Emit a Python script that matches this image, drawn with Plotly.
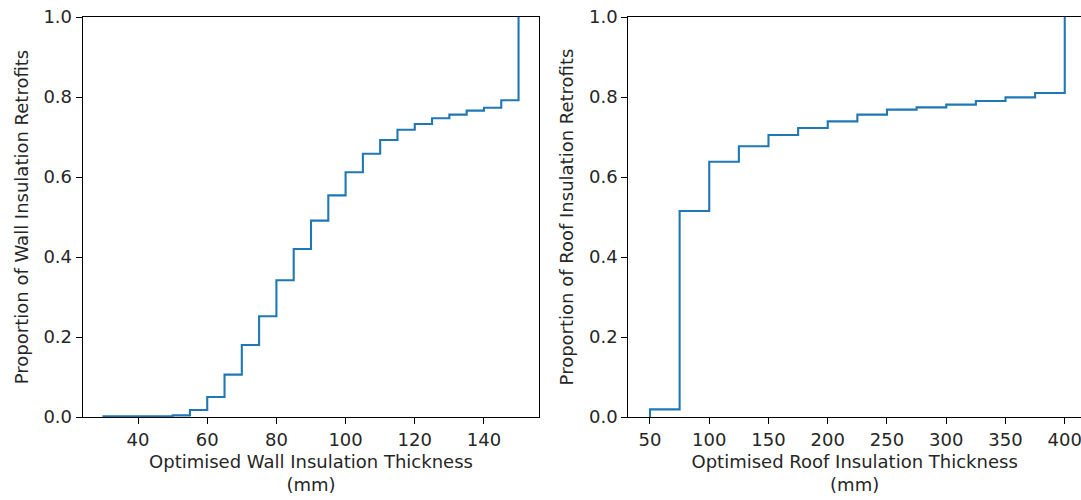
import plotly.graph_objects as go

# Wall insulation ECDF
wall_thickness = [30, 35, 40, 45, 50, 55, 60, 65, 70, 75, 80, 85, 90, 95, 100, 105, 110,
                  115, 120, 125, 130, 135, 140, 145, 150]
wall_prop = [0.002, 0.002, 0.002, 0.002, 0.004, 0.0175, 0.05, 0.106, 0.18, 0.252, 0.342,
             0.42, 0.491, 0.554, 0.612, 0.658, 0.6925, 0.718, 0.7325, 0.747, 0.756,
             0.766, 0.773, 0.792, 1.0]

# Roof insulation ECDF
roof_thickness = [50, 75, 100, 125, 150, 175, 200, 225, 250, 275, 300, 325, 350, 375, 400]
roof_prop = [0.019, 0.515, 0.638, 0.677, 0.705, 0.7225, 0.739, 0.756, 0.7685, 0.774,
             0.781, 0.79, 0.799, 0.81, 1.0]

y_ticks = [0.0, 0.2, 0.4, 0.6, 0.8, 1.0]
wall_ticks = [40, 60, 80, 100, 120, 140]
roof_ticks = [50, 100, 150, 200, 250, 300, 350, 400]

BLUE = "#1f77b4"
FONT = "DejaVu Sans"
TXT = "#262626"
FS = 18
W, H = 1081, 500

fig = go.Figure()
fig.add_trace(go.Scatter(x=[wall_thickness[0]] + wall_thickness, y=[0] + wall_prop,
                         mode="lines", line=dict(color=BLUE, width=2.1, shape="hv"),
                         xaxis="x", yaxis="y", showlegend=False))
fig.add_trace(go.Scatter(x=[roof_thickness[0]] + roof_thickness, y=[0] + roof_prop,
                         mode="lines", line=dict(color=BLUE, width=2.1, shape="hv"),
                         xaxis="x2", yaxis="y2", showlegend=False))

axis_common = dict(showgrid=False, zeroline=False, showline=True, linecolor="black",
                   linewidth=1.1, ticks="outside", ticklen=6, tickwidth=1.1,
                   tickcolor="black", tickfont=dict(family=FONT, size=FS, color=TXT),
                   ticklabeloverflow="allow")

tfont = dict(family=FONT, size=FS, color=TXT)

fig.update_layout(
    width=W, height=H,
    margin=dict(l=0, r=0, t=16.5, b=83.3),
    plot_bgcolor="white", paper_bgcolor="white",
    font=dict(family=FONT, size=FS, color=TXT),
    xaxis=dict(domain=[82.7 / W, 539.3 / W], range=[24, 156], tickvals=wall_ticks,
               mirror=True, anchor="y",
               title=dict(text="Optimised Wall Insulation Thickness<br>(mm)",
                          font=tfont, standoff=6),
               **axis_common),
    yaxis=dict(domain=[0, 1], range=[0, 1], tickvals=y_ticks, ticktext=[f"{v:.1f}" for v in y_ticks],
               mirror=True, anchor="x",
               title=dict(text="Proportion of Wall Insulation Retrofits",
                          font=tfont, standoff=10),
               **axis_common),
    xaxis2=dict(domain=[628.3 / W, 1.0], range=[31.7, 50 + (W - 650) / 1.185],
                tickvals=roof_ticks, mirror=True, anchor="y2",
                title=dict(text="Optimised Roof Insulation Thickness<br>(mm)",
                           font=tfont, standoff=6),
                **axis_common),
    yaxis2=dict(domain=[0, 1], range=[0, 1], tickvals=y_ticks, ticktext=[f"{v:.1f}" for v in y_ticks],
                mirror=False, anchor="x2",
                title=dict(text="Proportion of Roof Insulation Retrofits",
                           font=tfont, standoff=10),
                **axis_common),
)

fig.write_html("out.html")
